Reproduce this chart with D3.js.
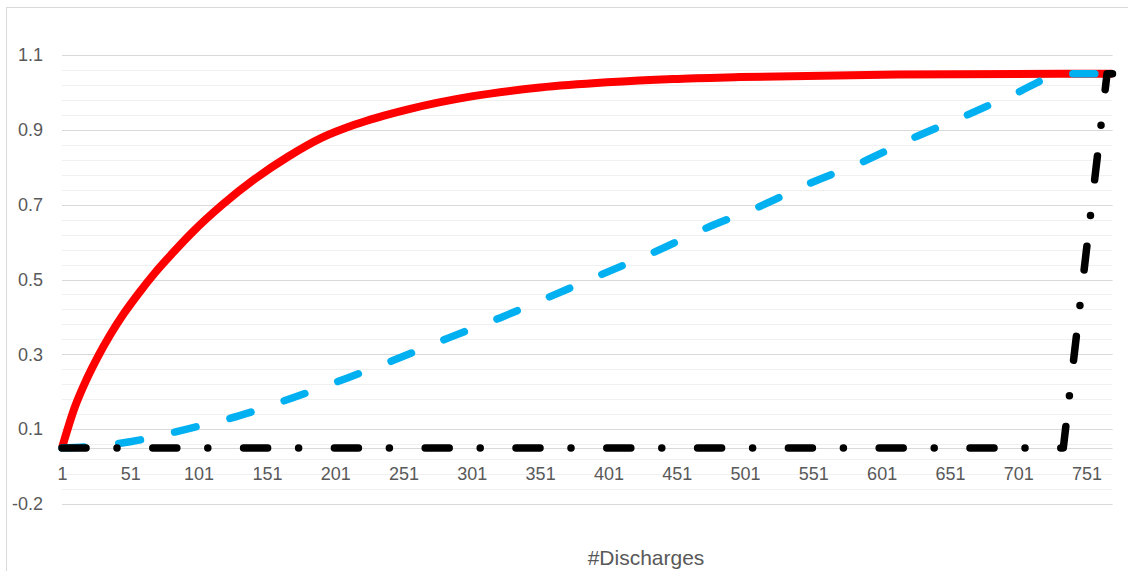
<!DOCTYPE html>
<html>
<head>
<meta charset="utf-8">
<script src="https://cdn.jsdelivr.net/npm/d3@7"></script>
<style>
  html, body { margin: 0; padding: 0; background: #ffffff; }
  svg { display: block; }
</style>
</head>
<body>
<svg id="chart" width="1128" height="571"></svg>
<script>
// ---- data ----
const redX   = [1, 10.5, 19.1, 27.6, 36.1, 45.9, 56.9, 69.1, 81.3, 96.9, 118.1, 142.3, 166.4, 191.3, 215.5, 253.6, 301.9, 350.9, 400, 448.3, 497.3, 612.3, 731.6, 770];
const redY   = [0, 0.110, 0.184, 0.246, 0.301, 0.357, 0.412, 0.468, 0.518, 0.578, 0.649, 0.719, 0.778, 0.829, 0.864, 0.904, 0.940, 0.963, 0.977, 0.986, 0.991, 0.998, 1.0, 1.0];

const blueX  = [1, 20, 52, 91, 131, 170, 210, 245, 284, 322, 360, 397, 435, 473, 511, 549, 587, 624, 662, 700, 730, 740, 770];
const blueY  = [0, 0.003, 0.017, 0.049, 0.086, 0.134, 0.187, 0.236, 0.294, 0.348, 0.407, 0.465, 0.524, 0.588, 0.644, 0.708, 0.764, 0.828, 0.887, 0.949, 0.997, 1.0, 1.0];

const blackX = [1, 734, 766, 770];
const blackY = [0, 0, 1, 1];

const xTickValues = [1, 51, 101, 151, 201, 251, 301, 351, 401, 451, 501, 551, 601, 651, 701, 751];
const yTickValues = [-0.15, 0.05, 0.25, 0.45, 0.65, 0.85, 1.05];
const yTickLabels = ["-0.2", "0.1", "0.3", "0.5", "0.7", "0.9", "1.1"];
const xTitle = "#Discharges";

(function () {
// ---- layout ----
const svg = d3.select("#chart");
const pLeft = 62, pRight = 1112.5, pTop = 55, pBottom = 504;
const x = d3.scaleLinear().domain([1, 770]).range([pLeft, pRight]);
const y = d3.scaleLinear().domain([-0.15, 1.05]).range([pBottom, pTop]);
const textColor = "#595959";
const font = "'Liberation Sans', Arial, sans-serif";

// chart border
svg.append("rect")
  .attr("x", 6.5).attr("y", 7.5).attr("width", 1140).attr("height", 600)
  .attr("fill", "none").attr("stroke", "#d9d9d9").attr("stroke-width", 1);

// minor gridlines (every 0.04)
const minor = d3.range(0, 31).map(i => -0.15 + i * 0.04);
svg.append("g").selectAll("line").data(minor).join("line")
  .attr("x1", pLeft).attr("x2", pRight)
  .attr("y1", d => Math.round(y(d)) + 0.5).attr("y2", d => Math.round(y(d)) + 0.5)
  .attr("stroke", "#f0f0f0").attr("stroke-width", 1);

// major gridlines
svg.append("g").selectAll("line").data(yTickValues).join("line")
  .attr("x1", pLeft).attr("x2", pRight)
  .attr("y1", d => Math.round(y(d)) + 0.5).attr("y2", d => Math.round(y(d)) + 0.5)
  .attr("stroke", "#d9d9d9").attr("stroke-width", 1);

// horizontal axis line at 0
svg.append("line")
  .attr("x1", pLeft).attr("x2", pRight)
  .attr("y1", Math.round(y(0)) + 0.5).attr("y2", Math.round(y(0)) + 0.5)
  .attr("stroke", "#d9d9d9").attr("stroke-width", 1);

// y axis labels
const yAxis = d3.axisLeft(y).tickValues(yTickValues)
  .tickFormat((d, i) => yTickLabels[i]).tickSize(0).tickPadding(0);
const gy = svg.append("g").attr("transform", `translate(${43},0)`).call(yAxis);
gy.select(".domain").remove();
gy.selectAll("text").attr("fill", textColor).attr("font-family", font).attr("font-size", 18);

// x axis labels
const xAxis = d3.axisBottom(x).tickValues(xTickValues).tickFormat(d3.format("d")).tickSize(0).tickPadding(0);
const gx = svg.append("g").attr("transform", `translate(0,${y(0) + 19})`).call(xAxis);
gx.select(".domain").remove();
gx.selectAll("text").attr("fill", textColor).attr("font-family", font).attr("font-size", 18);

// series
const line = d3.line().x(d => x(d[0])).y(d => y(d[1])).curve(d3.curveMonotoneX);
const straight = d3.line().x(d => x(d[0])).y(d => y(d[1]));

svg.append("path")
  .datum(d3.zip(redX, redY))
  .attr("d", line)
  .attr("fill", "none").attr("stroke", "#ff0000").attr("stroke-width", 8)
  .attr("stroke-linejoin", "round");

svg.append("path")
  .datum(d3.zip(blueX, blueY))
  .attr("d", line)
  .attr("fill", "none").attr("stroke", "#00b0f0").attr("stroke-width", 7.5)
  .attr("stroke-linecap", "round").attr("stroke-linejoin", "round")
  .attr("stroke-dasharray", "22 35");

svg.append("path")
  .datum(d3.zip(blackX, blackY))
  .attr("d", straight)
  .attr("fill", "none").attr("stroke", "#000000").attr("stroke-width", 7.5)
  .attr("stroke-linecap", "round").attr("stroke-linejoin", "round")
  .attr("stroke-dasharray", "24 31 0 35.8");

// x title
svg.append("text")
  .attr("x", 646).attr("y", 565)
  .attr("text-anchor", "middle")
  .attr("fill", textColor).attr("font-family", font).attr("font-size", 21)
  .text(xTitle);
})();
</script>
</body>
</html>
